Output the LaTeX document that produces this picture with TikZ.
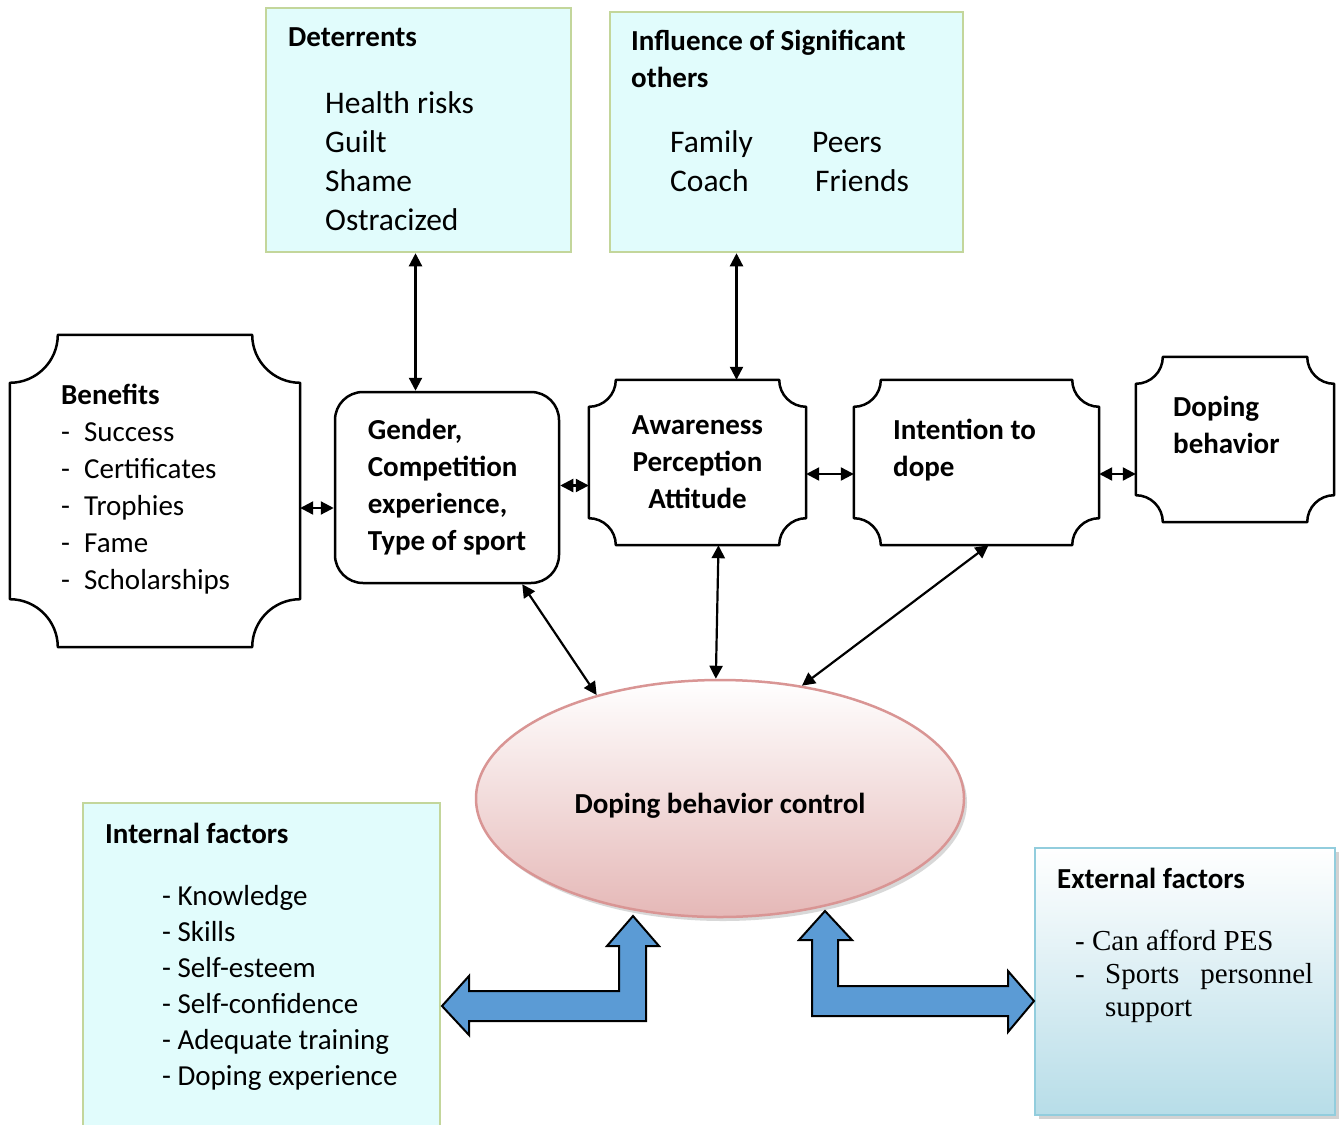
\documentclass[tikz,border=0pt]{standalone}
\usepackage{fontspec}
\setmainfont{Carlito}
\newfontfamily\timesface{Liberation Serif}
\usetikzlibrary{arrows.meta, shapes.geometric, positioning, calc, shadows}

\definecolor{boxcyan}{RGB}{225,252,252}
\definecolor{boxgreen}{RGB}{195,214,155}
\definecolor{ovalpink}{RGB}{229,184,183}
\definecolor{ovalline}{RGB}{217,149,148}
\definecolor{extblue}{RGB}{183,221,232}
\definecolor{extline}{RGB}{146,205,221}
\definecolor{bigarrow}{RGB}{91,155,213}

\newcommand{\txtsize}{\fontsize{29}{37}\selectfont}

\begin{document}
\begin{tikzpicture}[x=1pt, y=-1pt, font=\txtsize,
    infobox/.style={draw=boxgreen, line width=2.5pt, fill=boxcyan, inner sep=0},
    plaque/.style={inner sep=0},
    plaqueline/.style={line width=2.5pt, line join=round},
    roundbox/.style={draw, line width=2.5pt, rounded corners=28pt, align=left, inner sep=0, font=\txtsize\bfseries},
    txt/.style={align=left, inner sep=0, anchor=base west},
    link/.style={{Triangle[length=13pt,width=13pt]}-{Triangle[length=13pt,width=13pt]}, line width=2.2pt},
    blockarrow/.style={fill=bigarrow, draw=black, line width=2pt, line join=miter}]

    \fill[white] (0,0) rectangle (1343,1124);
    \useasboundingbox (0,0) rectangle (1343,1124);

    % boxes
    \node[infobox, minimum width=305pt, minimum height=244pt] (det) at (418.5,130) {};
    \node[infobox, minimum width=353pt, minimum height=240pt] (inf) at (786.5,132) {};
    \node[infobox, minimum width=357pt, minimum height=337pt] (intf) at (261.5,971.5) {};
    \node[draw=extline, line width=2.5pt, top color=white, bottom color=extblue, inner sep=0,
        drop shadow={shadow xshift=4pt, shadow yshift=-4pt, opacity=0.35},
        minimum width=300pt, minimum height=267pt] (extf) at (1185,981.5) {};

    \node[plaque, minimum width=290pt, minimum height=312pt] (ben) at (155,491) {};
    \node[roundbox, minimum width=224pt, minimum height=191pt] (gen) at (447,487.5)
        {Gender,\\Competition\\experience,\\Type of sport};
    \node[plaque, minimum width=217pt, minimum height=165pt, align=center, font=\txtsize\bfseries] (awa) at (697.5,462.5)
        {Awareness\\Perception\\Attitude};
    \node[plaque, minimum width=245pt, minimum height=165pt] (int) at (976.5,462.5) {};
    \node[plaque, minimum width=198pt, minimum height=165pt] (dop) at (1235,439.5) {};

    \foreach \n/\r in {ben/48, awa/27, int/27, dop/27}
        \draw[plaqueline] ([xshift=\r pt]\n.north west) -- ([xshift=-\r pt]\n.north east)
            arc[start angle=180, end angle=270, radius=\r pt] -- ([yshift=\r pt]\n.south east)
            arc[start angle=90, end angle=180, radius=\r pt] -- ([xshift=\r pt]\n.south west)
            arc[start angle=0, end angle=90, radius=\r pt] -- ([yshift=-\r pt]\n.north west)
            arc[start angle=270, end angle=360, radius=\r pt] -- cycle;

    \node[ellipse, minimum width=488pt, minimum height=237pt, inner sep=0, draw=ovalline, line width=2.5pt,
        top color=white, bottom color=ovalpink,
        drop shadow={shadow xshift=3pt, shadow yshift=-4pt, opacity=0.3},
        font=\txtsize\bfseries, text height=36pt, text depth=6pt] (ctrl) at (720,798.5) {Doping behavior control};

    % texts (anchored on the baseline of their last line)
    \node[txt, font=\txtsize\bfseries] (detl) at (288,47) {Deterrents};
    \node[txt, font=\fontsize{31.5}{39}\selectfont] (deti) at (325,230) {Health risks\\Guilt\\Shame\\Ostracized};
    \node[txt, font=\txtsize\bfseries] (infl) at (631,88) {Influence of Significant\\others};
    \node[txt, font=\fontsize{31.5}{39}\selectfont] (infi) at (670,191)
        {\makebox[142pt][l]{Family}Peers\\\makebox[145pt][l]{Coach}Friends};
    \node[txt] (bent) at (61,589) {\textbf{Benefits}\\\makebox[23pt][l]{-}Success\\\makebox[23pt][l]{-}Certificates\\
        \makebox[23pt][l]{-}Trophies\\\makebox[23pt][l]{-}Fame\\\makebox[23pt][l]{-}Scholarships};
    \node[txt, font=\txtsize\bfseries] (intt) at (893,476) {Intention to\\dope};
    \node[txt, font=\txtsize\bfseries] (dopt) at (1173,453) {Doping\\behavior};
    \node[txt, font=\txtsize\bfseries] (intl) at (105,843) {Internal factors};
    \node[txt, font=\fontsize{29}{36}\selectfont] (inti) at (162,1085)
        {- Knowledge\\- Skills\\- Self-esteem\\- Self-confidence\\- Adequate training\\- Doping experience};
    \node[txt, font=\txtsize\bfseries] (extl) at (1057,888) {External factors};
    \node[txt, font=\timesface\fontsize{29}{33}\selectfont] (exti) at (1075,1016)
        {- Can afford PES\\\makebox[30pt][l]{-}\makebox[208pt][l]{Sports\hfill personnel}\\\hspace*{30pt}support};

    % links
    \draw[link] ([xshift=-3pt]det.south) -- ([xshift=-3pt]det.south |- gen.north);
    \draw[link] ([xshift=-50pt]inf.south) -- ([xshift=-50pt]inf.south |- awa.north);
    \draw[link] ([yshift=-17pt]ben.east) -- ([yshift=-17pt]ben.east -| gen.west);
    \draw[link] ([yshift=2pt]gen.east) -- ([yshift=2pt]gen.east -| awa.west);
    \draw[link] ([yshift=-11.5pt]awa.east) -- ([yshift=-11.5pt]awa.east -| int.west);
    \draw[link] ([yshift=-11.5pt]int.east) -- ([yshift=-11.5pt]int.east -| dop.west);
    \draw[link] ([xshift=-38pt]gen.south east) -- (ctrl.140);
    \draw[link] ([xshift=21pt]awa.south) -- (ctrl.92);
    \draw[link] ([xshift=12pt]int.south) -- (ctrl.54);

    % block arrows
    \draw[blockarrow] (633,916) -- (659,946) -- (646,946) -- (646,1021) -- (469,1021) -- (469,1035)
        -- (442,1006) -- (469,976) -- (469,991) -- (619,991) -- (619,946) -- (607,946) -- cycle;
    \draw[blockarrow] (825,911) -- (852,940) -- (838,940) -- (838,986) -- (1008,986) -- (1008,971)
        -- (1034,1001) -- (1008,1032) -- (1008,1016) -- (812,1016) -- (812,940) -- (799,940) -- cycle;

\end{tikzpicture}
\end{document}
